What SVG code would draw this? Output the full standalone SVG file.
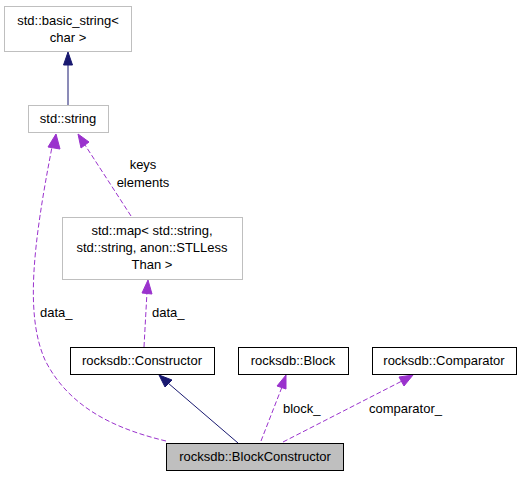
<svg xmlns="http://www.w3.org/2000/svg" width="521" height="477" viewBox="0 0 521 477">
<style>
text{font-family:"Liberation Sans",Arial,sans-serif;font-size:13px;fill:#000}
.c{text-anchor:middle}
.g{fill:#fff;stroke:#bfbfbf;stroke-width:1}
.b{fill:#fff;stroke:#000;stroke-width:1}
.inh{fill:none;stroke:#191970;stroke-width:1}
.use{fill:none;stroke:#9a32cd;stroke-width:1;stroke-dasharray:5,2.5}
.ah1{fill:#191970;stroke:#191970}
.ah2{fill:#9a32cd;stroke:#9a32cd}
</style>
<rect width="521" height="477" fill="#fff"/>
<g id="edges">
<path class="inh" d="M68,105 L68,64"/>
<polygon class="ah1" points="63.5,65 68,52 72.5,65"/>
<path class="inh" d="M238,443 L168,383"/>
<polygon class="ah1" points="165,387 159,375 172,380"/>
<path class="use" d="M166,441 C120,430 70,410 45,360 C25,315 33,245 52,147"/>
<polygon class="ah2" points="48,147 56,134 60,149"/>
<path class="use" d="M131,216 L85,145"/>
<polygon class="ah2" points="81,148 78,134 89,142"/>
<path class="use" d="M144,347 L147,292"/>
<polygon class="ah2" points="142,293 148,280 152,294"/>
<path class="use" d="M261,441 L282,387"/>
<polygon class="ah2" points="277,386 286,375 286,389"/>
<path class="use" d="M283,442 L402,381"/>
<polygon class="ah2" points="399,377 413,375 404,386"/>
<text x="143" y="169" class="c">keys</text>
<text x="143" y="187" class="c">elements</text>
<text x="40" y="317">data_</text>
<text x="152" y="317">data_</text>
<text x="283" y="413">block_</text>
<text x="369" y="413">comparator_</text>
</g>
<g id="node_basic_string">
<rect class="g" x="4.5" y="6.5" width="127" height="45"/>
<text x="68" y="25" class="c">std::basic_string&lt;</text>
<text x="68" y="42" class="c">char &gt;</text>
</g>
<g id="node_string">
<rect class="g" x="28.5" y="105.5" width="80" height="27"/>
<text x="68" y="123" class="c">std::string</text>
</g>
<g id="node_map">
<rect class="g" x="62.5" y="217.5" width="180" height="62"/>
<text x="152" y="235" class="c">std::map&lt; std::string,</text>
<text x="152" y="252" class="c">std::string, anon::STLLess</text>
<text x="152" y="269" class="c">Than &gt;</text>
</g>
<g id="node_constructor">
<rect class="b" x="70.5" y="347.5" width="144" height="27"/>
<text x="142" y="365" class="c">rocksdb::Constructor</text>
</g>
<g id="node_block">
<rect class="b" x="238.5" y="347.5" width="110" height="27"/>
<text x="293" y="365" class="c">rocksdb::Block</text>
</g>
<g id="node_comparator">
<rect class="b" x="372.5" y="347.5" width="144" height="27"/>
<text x="444" y="365" class="c">rocksdb::Comparator</text>
</g>
<g id="node_blockconstructor">
<rect x="166.5" y="443.5" width="177" height="27" fill="#bfbfbf" stroke="#000"/>
<text x="255" y="461" class="c">rocksdb::BlockConstructor</text>
</g>
</svg>
